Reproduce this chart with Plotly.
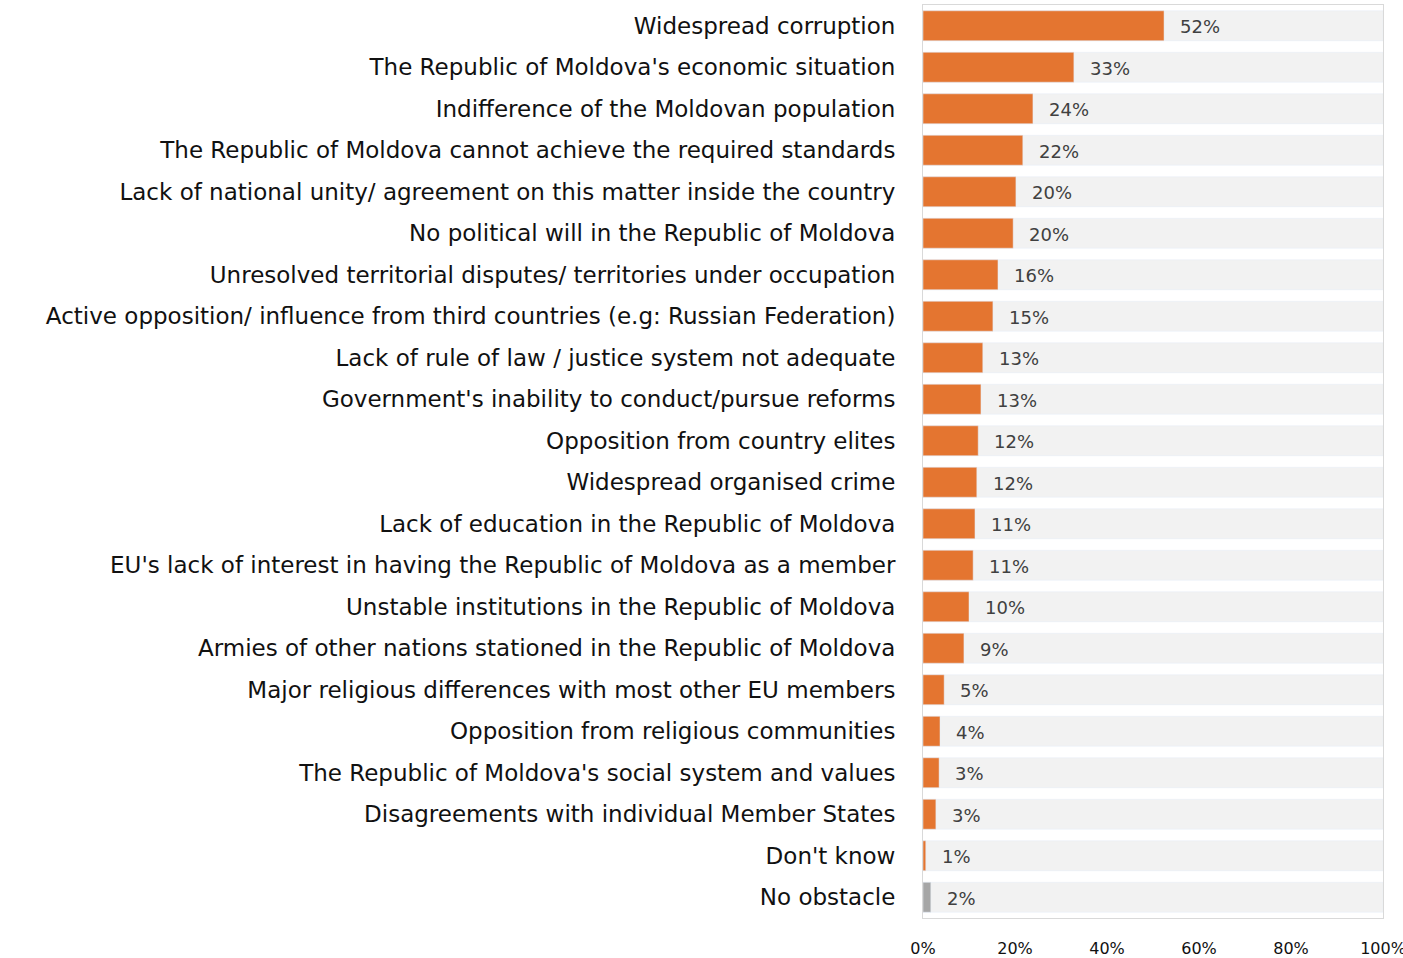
import plotly.graph_objects as go

categories = [
    "Widespread corruption",
    "The Republic of Moldova's economic situation",
    "Indifference of the Moldovan population",
    "The Republic of Moldova cannot achieve the required standards",
    "Lack of national unity/ agreement on this matter inside the country",
    "No political will in the Republic of Moldova",
    "Unresolved territorial disputes/ territories under occupation",
    "Active opposition/ influence from third countries (e.g: Russian Federation)",
    "Lack of rule of law / justice system not adequate",
    "Government's inability to conduct/pursue reforms",
    "Opposition from country elites",
    "Widespread organised crime",
    "Lack of education in the Republic of Moldova",
    "EU's lack of interest in having the Republic of Moldova as a member",
    "Unstable institutions in the Republic of Moldova",
    "Armies of other nations stationed in the Republic of Moldova",
    "Major religious differences with most other EU members",
    "Opposition from religious communities",
    "The Republic of Moldova's social system and values",
    "Disagreements with individual Member States",
    "Don't know",
    "No obstacle",
]
values = [52.4, 32.8, 23.9, 21.7, 20.2, 19.6, 16.3, 15.2, 13.0, 12.6, 12.0, 11.7,
          11.3, 10.9, 10.0, 8.9, 4.6, 3.7, 3.5, 2.8, 0.6, 1.7]
labels = ["52%", "33%", "24%", "22%", "20%", "20%", "16%", "15%", "13%", "13%", "12%", "12%",
          "11%", "11%", "10%", "9%", "5%", "4%", "3%", "3%", "1%", "2%"]
full = [100] * len(categories)
tick_vals = [0, 20, 40, 60, 80, 100]
tick_text = ["0%", "20%", "40%", "60%", "80%", "100%"]

ORANGE = "#E47530"
GREY = "#A6A6A6"
colors = [ORANGE] * (len(categories) - 1) + [GREY]
FONT = "DejaVu Sans, Open Sans, sans-serif"

fig = go.Figure()
fig.add_trace(go.Bar(y=categories, x=full, orientation="h", marker_color="#F2F2F2",
                     width=0.72, hoverinfo="skip", showlegend=False))
fig.add_trace(go.Bar(y=categories, x=values, orientation="h", marker_color=colors,
                     width=0.72, showlegend=False))

for c, v, t in zip(categories, values, labels):
    fig.add_annotation(x=v, y=c, text=t, showarrow=False, xanchor="left",
                       xshift=14, yshift=-1,
                       font=dict(family=FONT, size=18, color="#404040"))

fig.update_layout(
    width=1403, height=958,
    margin=dict(l=923, r=20, t=5, b=40, autoexpand=False),
    barmode="overlay",
    plot_bgcolor="white", paper_bgcolor="white",
    font=dict(family=FONT, color="#111111"),
)
fig.update_xaxes(range=[0, 100], tickvals=tick_vals, ticktext=tick_text, showgrid=False,
                 zeroline=False, showline=True, linecolor="#D9D9D9", mirror=True,
                 ticks="", ticklabelstandoff=16, automargin=False,
                 ticklabeloverflow="allow",
                 tickfont=dict(size=16, color="#111111"))
fig.update_yaxes(autorange="reversed", showgrid=False, zeroline=False, showline=True,
                 linecolor="#D9D9D9", mirror=True, ticks="", ticklabelstandoff=22,
                 automargin=False, tickfont=dict(size=23, color="#111111"))

fig.write_html("out.html", config={"displayModeBar": False},
               post_script="document.body.style.margin='0';document.body.style.overflow='hidden';")
